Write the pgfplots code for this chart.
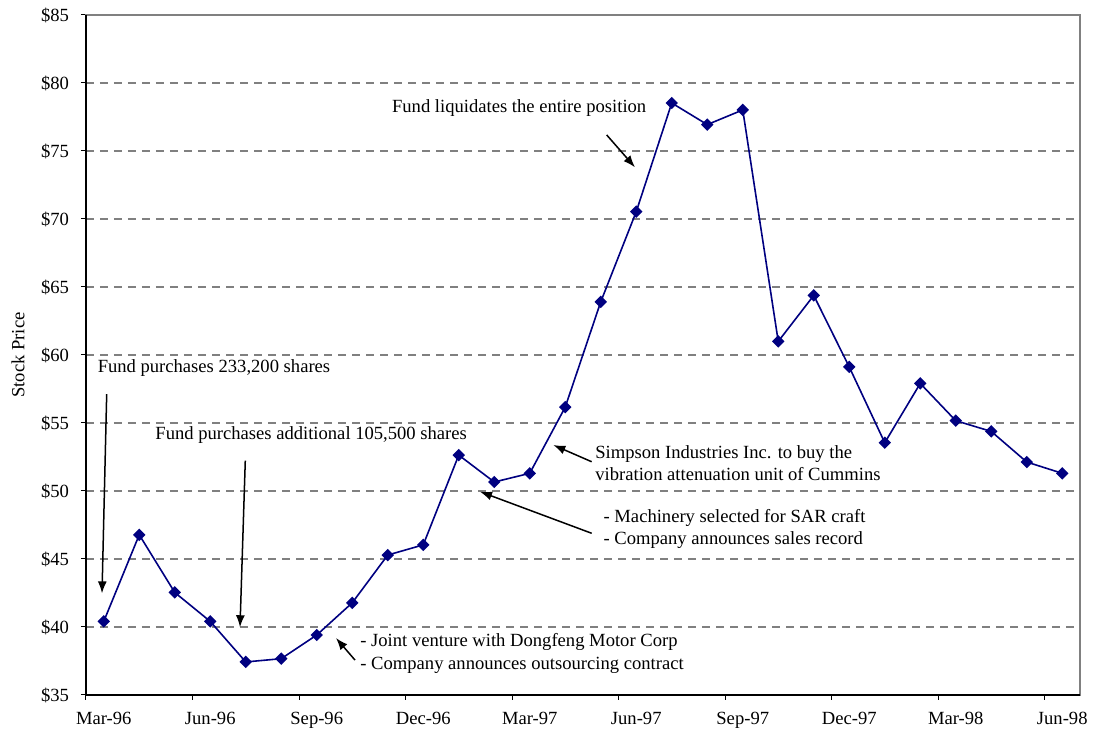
\documentclass[border=0pt]{standalone}
\usepackage{fontspec}
\setmainfont{Liberation Serif}
\usepackage{pgfplots}
\pgfplotsset{compat=1.18}
\usetikzlibrary{arrows.meta}
\definecolor{navyline}{RGB}{0,0,128}
\definecolor{gridgray}{RGB}{128,128,128}

\begin{document}
\begin{tikzpicture}[font=\fontsize{9.3}{11.5}\selectfont,
  note/.style={anchor=base west, inner sep=0pt},
  arr/.style={-{Latex[length=6pt,width=4.5pt]}, line width=0.75pt}]
\begin{axis}[
  name=ax,
  scale only axis,
  width=497pt, height=340pt,
  xmin=-0.5, xmax=27.5,
  ymin=35, ymax=85,
  xtick={0,3,...,27},
  xticklabels={Mar-96,Jun-96,Sep-96,Dec-96,Mar-97,Jun-97,Sep-97,Dec-97,Mar-98,Jun-98},
  minor xtick={-0.5,2.5,...,26.5},
  major x tick style={draw=none},
  ytick={35,40,...,85},
  yticklabels={\$35,\$40,\$45,\$50,\$55,\$60,\$65,\$70,\$75,\$80,\$85},
  xticklabel style={yshift=-2.5pt},
  yticklabel style={xshift=-2.5pt},
  tick align=outside,
  xtick pos=left, ytick pos=left,
  major tick length=2.5pt, minor tick length=2.5pt,
  tick style={black, line width=0.5pt},
  ymajorgrids,
  grid style={gridgray, dash pattern=on 4pt off 3pt, line width=0.6pt},
  axis line style={gridgray, line width=0.6pt},
  ylabel={Stock Price},
  every axis y label/.style={at={(axis description cs:-0.0684,0.5)}, anchor=center, rotate=90},
  clip=false,
]

% monthly closing price
\addplot[navyline, line width=0.8pt, mark=square*, mark size=1.8pt,
  mark options={rotate=45, solid, fill=navyline}] table {
  x y
  0 40.41
  1 46.78
  2 42.54
  3 40.41
  4 37.43
  5 37.67
  6 39.41
  7 41.78
  8 45.29
  9 46.04
  10 52.64
  11 50.66
  12 51.30
  13 56.17
  14 63.91
  15 70.54
  16 78.53
  17 76.94
  18 78.02
  19 61.00
  20 64.38
  21 59.12
  22 53.55
  23 57.91
  24 55.17
  25 54.38
  26 52.13
  27 51.30
};

% black left and bottom axis lines
\draw[black, line width=0.7pt] (rel axis cs:0,1) -- (rel axis cs:0,0) -- (rel axis cs:1,0);

% annotations
\node[note] at (axis cs:-0.18,58.68) {Fund purchases 233,200 shares};
\draw[arr] (axis cs:0.083,57.13) -- (axis cs:-0.049,42.47);

\node[note] at (axis cs:1.444,53.75) {Fund purchases additional 105,500 shares};
\draw[arr] (axis cs:3.987,52.23) -- (axis cs:3.838,39.98);

\node[note] at (axis cs:7.218,38.55) {- Joint venture with Dongfeng Motor Corp};
\node[note] at (axis cs:7.218,36.84) {- Company announces outsourcing contract};
\draw[arr] (axis cs:7.077,37.57) -- (axis cs:6.542,39.19);

\node[note] at (axis cs:13.838,52.40) {Simpson Industries Inc. to buy the};
\node[note] at (axis cs:13.838,50.76) {vibration attenuation unit of Cummins};
\draw[arr] (axis cs:13.745,52.15) -- (axis cs:12.664,53.38);

\node[note] at (axis cs:14.07,47.67) {- Machinery selected for SAR craft};
\node[note] at (axis cs:14.07,46.03) {- Company announces sales record};
\draw[arr] (axis cs:13.745,46.89) -- (axis cs:10.599,49.95);

\node[note] at (axis cs:8.111,77.82) {Fund liquidates the entire position};
\draw[arr] (axis cs:14.167,76.18) -- (axis cs:14.965,73.80);

\end{axis}
\pgfresetboundingbox
\path[use as bounding box] ([xshift=-43pt,yshift=-22pt]ax.south west) rectangle ([xshift=6.5pt,yshift=7.5pt]ax.north east);
\end{tikzpicture}
\end{document}
